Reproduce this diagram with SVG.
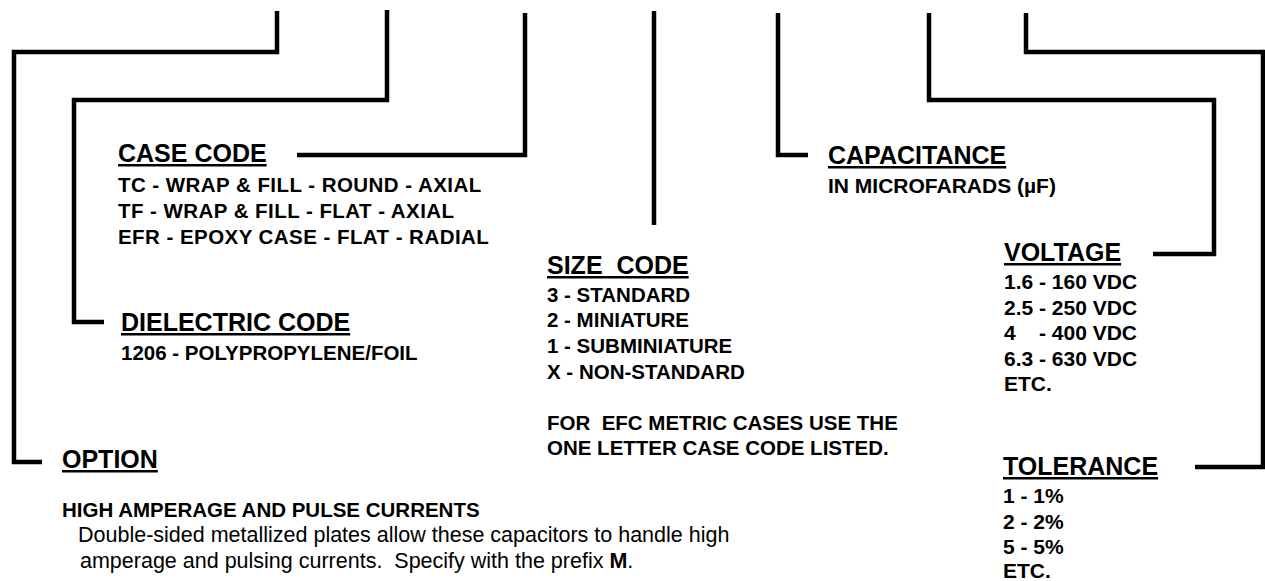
<svg xmlns="http://www.w3.org/2000/svg" width="1265" height="581" viewBox="0 0 1265 581">
<style>
.ln{fill:none;stroke:#000;stroke-width:4.5;stroke-linejoin:miter;stroke-linecap:butt}
.hd{font-family:"Liberation Sans",Arial,sans-serif;font-weight:bold;font-size:25px;text-decoration:underline;fill:#000}
.sb{font-family:"Liberation Sans",Arial,sans-serif;font-weight:bold;font-size:20.5px;fill:#000}
.cc{letter-spacing:0.45px}
.lst{font-family:"Liberation Sans",Arial,sans-serif;font-weight:bold;font-size:21px;fill:#000}
.nm{font-family:"Liberation Sans",Arial,sans-serif;font-size:21.5px;fill:#000}
</style>
<rect width="1265" height="581" fill="#fff"/>
<g id="connectors">
<path class="ln" d="M277,11 V52 H14 V462 H42"/>
<path class="ln" d="M387,10 V100 H74 V322 H104"/>
<path class="ln" d="M525,13 V155 H297"/>
<path class="ln" d="M654,11 V225"/>
<path class="ln" d="M778,13 V155 H808"/>
<path class="ln" d="M929,13 V100 H1214 V254 H1153"/>
<path class="ln" d="M1026,13 V52 H1263 V467 H1195"/>
</g>
<g id="case-code">
<text class="hd" x="118" y="162">CASE CODE</text>
<text class="sb cc" x="118" y="192">TC - WRAP &amp; FILL - ROUND - AXIAL</text>
<text class="sb cc" x="118" y="218">TF - WRAP &amp; FILL - FLAT - AXIAL</text>
<text class="sb cc" x="118" y="244">EFR - EPOXY CASE - FLAT - RADIAL</text>
</g>
<g id="dielectric-code">
<text class="hd" x="121" y="331">DIELECTRIC CODE</text>
<text class="sb" x="121" y="360">1206 - POLYPROPYLENE/FOIL</text>
</g>
<g id="option">
<text class="hd" x="62" y="468">OPTION</text>
<text class="sb" x="62" y="517">HIGH AMPERAGE AND PULSE CURRENTS</text>
<text class="nm" x="78" y="542">Double-sided metallized plates allow these capacitors to handle high</text>
<text class="nm" x="80" y="568" xml:space="preserve">amperage and pulsing currents.  Specify with the prefix <tspan font-weight="bold">M</tspan>.</text>
</g>
<g id="size-code">
<text class="hd" x="547" y="274" xml:space="preserve">SIZE  CODE</text>
<text class="sb" x="547" y="302">3 - STANDARD</text>
<text class="sb" x="547" y="327">2 - MINIATURE</text>
<text class="sb" x="547" y="353">1 - SUBMINIATURE</text>
<text class="sb" x="547" y="379">X - NON-STANDARD</text>
<text class="sb" x="547" y="430" xml:space="preserve">FOR  EFC METRIC CASES USE THE</text>
<text class="sb" x="547" y="455">ONE LETTER CASE CODE LISTED.</text>
</g>
<g id="capacitance">
<text class="hd" x="828" y="164">CAPACITANCE</text>
<text class="lst" x="828" y="193">IN MICROFARADS (µF)</text>
</g>
<g id="voltage">
<text class="hd" x="1004" y="261">VOLTAGE</text>
<text class="lst" x="1004" y="289">1.6 - 160 VDC</text>
<text class="lst" x="1004" y="315">2.5 - 250 VDC</text>
<text class="lst" x="1004" y="340">4<tspan x="1039">- 400 VDC</tspan></text>
<text class="lst" x="1004" y="366">6.3 - 630 VDC</text>
<text class="lst" x="1004" y="391">ETC.</text>
</g>
<g id="tolerance">
<text class="hd" x="1003" y="475">TOLERANCE</text>
<text class="lst" x="1003" y="503">1 - 1%</text>
<text class="lst" x="1003" y="529">2 - 2%</text>
<text class="lst" x="1003" y="554">5 - 5%</text>
<text class="lst" x="1003" y="578">ETC.</text>
</g>
</svg>
